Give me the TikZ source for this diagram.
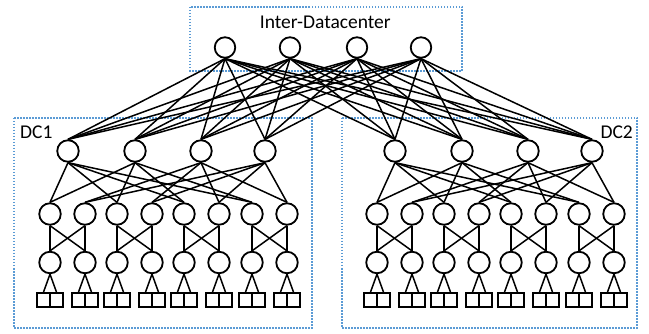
\documentclass[tikz,border=0pt]{standalone}
\usepackage{fontspec}
\setmainfont{Carlito}
\definecolor{dcblue}{RGB}{91,155,213}
\begin{document}
\begin{tikzpicture}[x=1pt,y=-1pt,
  nd/.style={circle,draw,line width=1.8pt,minimum size=21.5pt,inner sep=0pt},
  cnd/.style={nd,minimum size=20.5pt},
  host/.style={rectangle,draw,line width=1.8pt,minimum width=13pt,minimum height=14pt,inner sep=0pt},
  link/.style={line width=1.5pt},
  region/.style={draw=dcblue,line width=1.6pt,dash pattern=on 1.5pt off 1.5pt},
  lbl/.style={font=\fontsize{19.5}{22}\selectfont,inner sep=0pt}]
\useasboundingbox (0,0) rectangle (649,334);
% regions
\draw[region] (190,7) rectangle (462,71);
\draw[region] (14,118) rectangle (312,328);
\draw[region] (342,118) rectangle (637,328);
% labels
\node[lbl,anchor=base] (tinter) at (325.3,28.3) {Inter-Datacenter};
\node[lbl,anchor=base west] (tdca) at (20,139) {DC1};
\node[lbl,anchor=base east] (tdcb) at (633,139) {DC2};
% core
\foreach \i/\x in {1/225,2/290,3/357,4/421}
  \node[cnd] (c\i) at (\x,47.5) {};
% datacenters
\foreach \d/\o in {1/0,2/327}{
  \foreach \i/\x in {1/68,2/135,3/201,4/265}
    \node[nd] (a\d\i) at (\x+\o,151) {};
  \foreach \i/\x in {1/50,2/85,3/117,4/152,5/184,6/219,7/252,8/287}{
    \node[nd] (e\d\i) at (\x+\o,214) {};
    \node[nd] (t\d\i) at (\x+\o,262.5) {};
    \node[host] (ha\d\i) at (\x+\o-6.5,300) {};
    \node[host] (hb\d\i) at (\x+\o+6.5,300) {};
    \draw[link] (t\d\i.south) -- (ha\d\i.north);
    \draw[link] (t\d\i.south) -- (hb\d\i.north);
  }
  \foreach \a in {1,2}
    \foreach \k in {1,3,5,7}
      \draw[link] (a\d\a.south) -- (e\d\k.north);
  \foreach \a in {3,4}
    \foreach \k in {2,4,6,8}
      \draw[link] (a\d\a.south) -- (e\d\k.north);
  \foreach \p/\q in {1/2,3/4,5/6,7/8}{
    \draw[link] (e\d\p.south) -- (t\d\p.north);
    \draw[link] (e\d\p.south) -- (t\d\q.north);
    \draw[link] (e\d\q.south) -- (t\d\q.north);
    \draw[link] (e\d\q.south) -- (t\d\p.north);
  }
}
% core to aggregation
\foreach \c in {1,...,4}
  \foreach \d in {1,2}
    \foreach \i in {1,...,4}
      \draw[link] (c\c.south) -- (a\d\i.north);
\end{tikzpicture}
\end{document}
